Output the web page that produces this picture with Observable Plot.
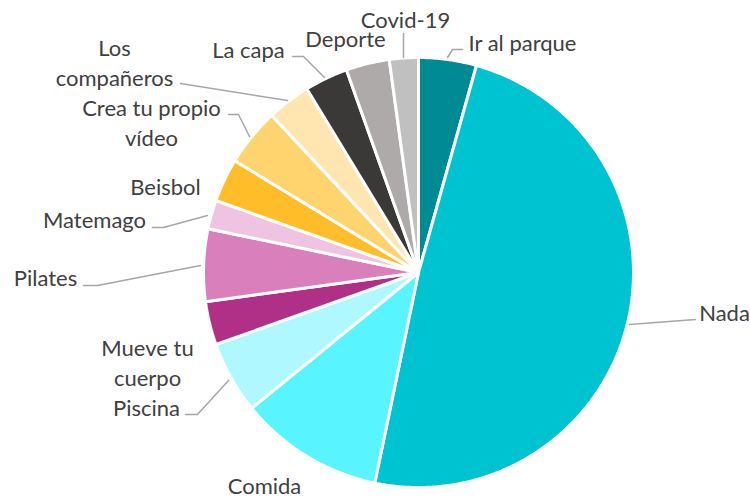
<!DOCTYPE html>
<html>
<head>
<meta charset="utf-8">
<script src="https://cdn.jsdelivr.net/npm/d3@7"></script>
<script src="https://cdn.jsdelivr.net/npm/@observablehq/plot@0.6"></script>
<style>
  html, body { margin: 0; padding: 0; background: #fff; }
  #chart { width: 750px; height: 499px; }
</style>
</head>
<body>
<div id="chart"></div>
<script>
// ---- Data ----
const categories = ["Ir al parque", "Nada", "Comida", "Piscina", "Mueve tu cuerpo", "Pilates",
  "Matemago", "Beisbol", "Crea tu propio vídeo", "Los compañeros", "La capa", "Deporte", "Covid-19"];
const values = [4, 45, 10, 5, 3, 5, 2, 3, 4, 3, 3, 3, 2];
const displayLabels = ["Ir al parque", "Nada", "Comida", "Piscina", "Mueve tu\ncuerpo", "Pilates",
  "Matemago", "Beisbol", "Crea tu propio\nvídeo", "Los\ncompañeros", "La capa", "Deporte", "Covid-19"];

// ---- Styles ----
const colors = ["#008B94", "#00C3D1", "#58F4FF", "#B0F8FF", "#B03088", "#D97FBC",
  "#EFC4E3", "#FFBE29", "#FFD46F", "#FFE6B0", "#3B3938", "#ADAAA9", "#C0C0C0"];

// ---- Layout ----
const W = 750, H = 499;
const cx = 418, cy = 272, R = 215;
// label block centres
const labelPos = [
  [522, 41], [724, 311], [264, 484], [146, 406], [147, 361], [45, 276],
  [94, 218], [165, 185], [151, 121], [114, 61], [248, 48], [345, 37], [405, 18]
];
// leader lines (label side -> slice)
const leaders = [
  [[462, 49], [452, 49], [447, 57]],
  [[695, 319], [629, 324]],
  null,
  [[185, 414], [197, 414], [228, 380]],
  null,
  [[83, 285], [97, 285], [200, 265]],
  [[152, 227], [163, 227], [207, 215]],
  null,
  [[228, 114], [238, 114], [249, 136]],
  [[180, 83], [287, 100]],
  [[292, 56], [303, 56], [324, 77]],
  null,
  [[403, 33], [403, 57]]
];

const data = categories.map((c, i) => ({category: c, value: values[i], label: displayLabels[i], color: colors[i]}));
const arcs = d3.pie().value(d => d.value).sort(null).startAngle(0).endAngle(2 * Math.PI)(data);

// slice polygons computed from the pie angles
const slicePts = [];
arcs.forEach(a => {
  const n = Math.max(4, Math.ceil((a.endAngle - a.startAngle) / 0.01));
  slicePts.push({category: a.data.category, color: a.data.color, px: 0, py: 0});
  for (let k = 0; k <= n; k++) {
    const t = a.startAngle + (a.endAngle - a.startAngle) * k / n;
    slicePts.push({category: a.data.category, color: a.data.color, px: Math.sin(t), py: -Math.cos(t)});
  }
  slicePts.push({category: a.data.category, color: a.data.color, px: 0, py: 0});
});

const leaderPts = [];
leaders.forEach((l, i) => { if (l) l.forEach(p => leaderPts.push({category: categories[i], lx: p[0], ly: p[1]})); });

const labelData = data.map((d, i) => ({label: d.label, lx: labelPos[i][0], ly: labelPos[i][1]}));

const chart = Plot.plot({
  width: W, height: H,
  margin: 0,
  x: {domain: [-cx / R, (W - cx) / R], range: [0, W], axis: null},
  y: {domain: [-cy / R, (H - cy) / R], range: [0, H], axis: null},
  color: {type: "identity"},
  style: {fontFamily: "Lato, 'Open Sans', sans-serif", background: "white"},
  marks: [
    Plot.line(slicePts, {x: "px", y: "py", z: "category", fill: "color", stroke: "white", strokeWidth: 3, strokeLinejoin: "miter", curve: "linear"}),
    Plot.line(leaderPts, {x: d => (d.lx - cx) / R, y: d => (d.ly - cy) / R, z: "category", stroke: "#A6A6A6", strokeWidth: 1.5}),
    Plot.text(labelData, {x: d => (d.lx - cx) / R, y: d => (d.ly - cy) / R, text: "label", fill: "#404040", fontSize: 22, lineHeight: 1.36, textAnchor: "middle", lineAnchor: "middle"})
  ]
});
document.getElementById("chart").appendChild(chart);
</script>
</body>
</html>
